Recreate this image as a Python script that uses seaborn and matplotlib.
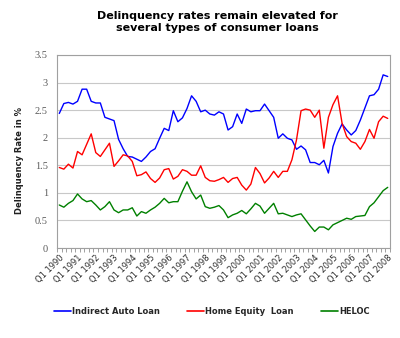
import numpy as np
import pandas as pd
import matplotlib
matplotlib.use("Agg")
import matplotlib.pyplot as plt
import seaborn as sns

# ---- data -------------------------------------------------------------
quarters = [f"Q{q} {y}" for y in range(1990, 2009) for q in range(1, 5)][:73]

auto = [2.44, 2.62, 2.64, 2.61, 2.66, 2.88, 2.88, 2.66, 2.63, 2.63,
        2.37, 2.34, 2.31, 1.97, 1.80, 1.66, 1.65, 1.61, 1.57, 1.65,
        1.75, 1.80, 1.99, 2.17, 2.13, 2.49, 2.29, 2.36, 2.53, 2.76,
        2.66, 2.47, 2.50, 2.43, 2.41, 2.47, 2.43, 2.14, 2.20, 2.43,
        2.26, 2.52, 2.47, 2.49, 2.49, 2.61, 2.49, 2.37, 1.99, 2.07,
        1.99, 1.96, 1.79, 1.85, 1.78, 1.55, 1.55, 1.51, 1.59, 1.36,
        1.84, 2.08, 2.25, 2.14, 2.05, 2.13, 2.32, 2.54, 2.76, 2.78,
        2.88, 3.14, 3.11]

home_equity = [1.46, 1.43, 1.52, 1.45, 1.75, 1.69, 1.88, 2.07, 1.73, 1.66,
               1.78, 1.90, 1.48, 1.58, 1.69, 1.67, 1.57, 1.31, 1.33, 1.38,
               1.26, 1.19, 1.27, 1.42, 1.44, 1.25, 1.30, 1.42, 1.39, 1.32,
               1.32, 1.49, 1.28, 1.22, 1.21, 1.24, 1.28, 1.19, 1.26, 1.28,
               1.14, 1.05, 1.16, 1.46, 1.35, 1.18, 1.27, 1.39, 1.28, 1.39,
               1.39, 1.60, 1.96, 2.49, 2.52, 2.50, 2.37, 2.50, 1.81, 2.37,
               2.60, 2.76, 2.26, 2.02, 1.93, 1.90, 1.79, 1.93, 2.15, 1.99,
               2.29, 2.39, 2.35]

heloc = [0.78, 0.74, 0.81, 0.86, 0.98, 0.89, 0.84, 0.86, 0.78, 0.69,
         0.75, 0.84, 0.69, 0.64, 0.69, 0.69, 0.73, 0.58, 0.66, 0.63,
         0.69, 0.74, 0.81, 0.90, 0.82, 0.84, 0.84, 1.03, 1.20, 1.02,
         0.89, 0.96, 0.75, 0.72, 0.74, 0.77, 0.69, 0.55, 0.60, 0.63,
         0.68, 0.62, 0.71, 0.81, 0.76, 0.63, 0.72, 0.81, 0.62, 0.63,
         0.60, 0.57, 0.60, 0.62, 0.51, 0.40, 0.30, 0.38, 0.38, 0.33,
         0.42, 0.46, 0.50, 0.54, 0.52, 0.57, 0.58, 0.59, 0.75, 0.82,
         0.93, 1.04, 1.10]

series_names = ["Indirect Auto Loan", "Home Equity  Loan", "HELOC"]
series_colors = ["#0000FF", "#FF0000", "#008000"]
y_ticks = [0, 0.5, 1, 1.5, 2, 2.5, 3, 3.5]
y_tick_labels = ["0", "0.5", "1", "1.5", "2", "2.5", "3", "3.5"]

# ---- long-form table ---------------------------------------------------
idx = list(range(len(quarters)))
df = pd.concat([
    pd.DataFrame({"q": idx, "rate": vals, "series": name})
    for name, vals in zip(series_names, [auto, home_equity, heloc])
], ignore_index=True)

# ---- figure ------------------------------------------------------------
sns.set_style("white")
plt.rcParams["font.family"] = ["DejaVu Sans"]

fig = plt.figure(figsize=(4.0, 3.38), dpi=100)
ax = fig.add_axes([57 / 400, 1 - 248 / 338, 333 / 400, 193 / 338])

sns.lineplot(data=df, x="q", y="rate", hue="series", hue_order=series_names,
             palette=series_colors, linewidth=1.0, ax=ax, legend=False)

ax.set_xlim(-0.5, len(quarters) - 0.5)
ax.set_ylim(0, 3.5)
ax.set_yticks(y_ticks)
ax.set_yticklabels(y_tick_labels, fontsize=7.5, color="#5A5A5A",
                   family="Liberation Serif")
ax.yaxis.grid(True, color="#C8C8C8", linewidth=0.8)
ax.set_axisbelow(True)
ax.tick_params(axis="y", length=0, pad=6.5)

ax.set_xticks(idx[::4])
ax.set_xticklabels(quarters[::4], rotation=45, ha="right",
                   rotation_mode="anchor", fontsize=6, color="#303030")
ax.set_xticks(np.arange(-0.5, len(quarters), 1), minor=True)
ax.tick_params(axis="x", which="major", length=0, pad=4)
ax.tick_params(axis="x", which="minor", length=3, color="#909090",
               width=0.6, bottom=True, direction="out")

for s in ax.spines.values():
    s.set_color("#A0A0A0")
    s.set_linewidth(0.8)

ax.set_xlabel("")
ax.set_ylabel("")

fig.text(20 / 400, 1 - 160 / 338, "Delinquency Rate in %", rotation=90,
         ha="center", va="center", fontsize=6, fontweight="bold",
         color="#202020")

fig.text(217 / 400, 1 - 22 / 338,
         "Delinquency rates remain elevated for\nseveral types of consumer loans",
         ha="center", va="center", fontsize=8, fontweight="bold",
         linespacing=1.15, color="#000000")

handles = [plt.Line2D([], [], color=c, linewidth=1.2) for c in series_colors]
fig.legend(handles, series_names, loc="center", ncol=3, frameon=False,
           bbox_to_anchor=(212 / 400, 1 - 311 / 338),
           prop={"weight": "bold", "size": 6}, handlelength=2.0,
           handletextpad=0.15, columnspacing=3.3)

fig.savefig("out.png", dpi=100)
